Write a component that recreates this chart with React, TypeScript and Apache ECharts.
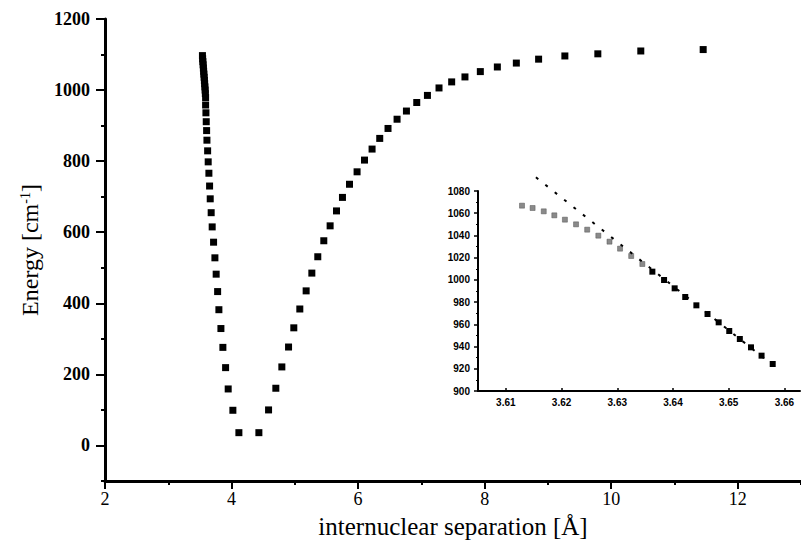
import React, { useEffect, useRef } from "react";
import * as echarts from "echarts";

// ---- main potential curve (separation in Å, energy in cm^-1) ----
const mainSeparation = [
  3.54, 3.543, 3.547, 3.551, 3.555, 3.559, 3.563, 3.567, 3.571, 3.575, 3.579, 3.583, 3.586,
  3.59, 3.59, 3.595, 3.6, 3.606, 3.611, 3.622, 3.631, 3.642, 3.653, 3.663, 3.678, 3.694,
  3.716, 3.737, 3.757, 3.78, 3.8, 3.832, 3.863, 3.906, 3.947, 4.021, 4.116,
  4.432, 4.585, 4.7, 4.795, 4.901, 4.984, 5.079, 5.179, 5.269, 5.363, 5.458, 5.558, 5.659,
  5.753, 5.864, 5.984, 6.101, 6.221, 6.342, 6.473, 6.616, 6.764, 6.927, 7.096, 7.279, 7.479,
  7.689, 7.932, 8.201, 8.501, 8.853, 9.268, 9.789, 10.468, 11.454,
];
const mainEnergy = [
  1097, 1088, 1080, 1071, 1062, 1053, 1045, 1036, 1027, 1018, 1009, 1000, 990,
  979, 958, 936, 911, 886, 859, 829, 798, 766, 730, 694, 655, 615,
  572, 528, 482, 433, 382, 329, 276, 219, 159, 99, 36,
  36, 100, 161, 221, 277, 331, 384, 435, 485, 531, 576, 618, 660,
  698, 735, 770, 803, 834, 864, 892, 918, 941, 965, 985, 1006, 1023,
  1037, 1052, 1065, 1076, 1087, 1096, 1102, 1110, 1114,
];

// ---- inset: grey points (deviating) ----
const insetGreySeparation = [
  3.6129, 3.6148, 3.6168, 3.6187, 3.6206, 3.6226, 3.6246, 3.6266, 3.6286, 3.6305, 3.6325, 3.6345,
];
const insetGreyEnergy = [
  1066.8, 1064.7, 1061.7, 1058.1, 1054.2, 1050.0, 1045.2, 1039.8, 1034.4, 1028.1, 1021.5, 1014.3,
];

// ---- inset: black points ----
const insetBlackSeparation = [
  3.6363, 3.6384, 3.6403, 3.6422, 3.6442, 3.6462, 3.6482, 3.6501, 3.652, 3.654, 3.6559, 3.6579,
];
const insetBlackEnergy = [
  1007.4, 999.9, 992.4, 984.6, 977.1, 969.3, 961.8, 954.0, 946.8, 939.3, 931.8, 924.3,
];

// ---- inset: dotted linear extrapolation ----
const fitSeparation = [3.6154, 3.6575];
const fitEnergy = [1092.3, 924.9];

// ---- tick values ----
const mainXMajor = [2, 4, 6, 8, 10, 12];
const mainYMajor = [0, 200, 400, 600, 800, 1000, 1200];
const insetXTicks = [3.61, 3.62, 3.63, 3.64, 3.65, 3.66];

const SERIF = "'Liberation Serif', 'Times New Roman', serif";
const SANS = "'Liberation Sans', Arial, sans-serif";
const INK = "#000000";

const pairs = (xs: number[], ys: number[]) => xs.map((x, i) => [x, ys[i]]);
const plain = (v: number) => String(v);
const stroke = (width: number) => ({ color: INK, width, opacity: 1 });

export default function App() {
  const ref = useRef<HTMLDivElement>(null);

  useEffect(() => {
    if (!ref.current) return;
    const chart = echarts.init(ref.current, null, { renderer: "svg" });

    const option: any = {
      animation: false,
      backgroundColor: "#ffffff",
      grid: [
        { left: 105, right: 0, top: 19, bottom: 59, containLabel: false },
        { left: 478, right: 1, top: 191, bottom: 153, containLabel: false },
      ],
      xAxis: [
        {
          gridIndex: 0,
          type: "value",
          min: 2,
          max: 13,
          position: "bottom",
          splitLine: { show: false },
          axisLine: { show: true, onZero: false, lineStyle: stroke(3) },
          axisTick: { show: true, customValues: mainXMajor, length: 8, lineStyle: stroke(2) },
          axisLabel: {
            customValues: mainXMajor,
            formatter: plain,
            margin: 9,
            color: INK,
            fontFamily: SERIF,
            fontSize: 18,
          },
          name: "internuclear separation [Å]",
          nameLocation: "middle",
          nameGap: 33,
          nameTextStyle: { fontFamily: SERIF, fontSize: 25, color: INK },
        },
        {
          // minor ticks (every unit, short)
          gridIndex: 0,
          type: "value",
          min: 2,
          max: 13,
          interval: 1,
          position: "bottom",
          splitLine: { show: false },
          axisLine: { show: false, onZero: false },
          axisTick: { show: true, length: 4, lineStyle: stroke(2) },
          axisLabel: { show: false },
        },
        {
          gridIndex: 1,
          type: "value",
          min: 3.605,
          max: 3.6628,
          position: "bottom",
          splitLine: { show: false },
          axisLine: { show: true, onZero: false, lineStyle: stroke(2) },
          axisTick: { show: true, customValues: insetXTicks, length: 3, inside: true, lineStyle: stroke(1.5) },
          axisLabel: {
            customValues: insetXTicks,
            formatter: (v: number) => v.toFixed(2),
            margin: 6,
            color: INK,
            fontFamily: SANS,
            fontWeight: "bold",
            fontSize: 10,
          },
        },
      ],
      yAxis: [
        {
          gridIndex: 0,
          type: "value",
          min: -100,
          max: 1200,
          position: "left",
          splitLine: { show: false },
          axisLine: { show: true, onZero: false, lineStyle: stroke(3) },
          axisTick: { show: true, customValues: mainYMajor, length: 9, lineStyle: stroke(2) },
          axisLabel: {
            customValues: mainYMajor,
            formatter: plain,
            margin: 15,
            color: INK,
            fontFamily: SERIF,
            fontWeight: "bold",
            fontSize: 18,
          },
          name: "Energy [cm{sup|-1}]",
          nameLocation: "middle",
          nameGap: 63,
          nameRotate: 90,
          nameTextStyle: {
            fontFamily: SERIF,
            fontSize: 24,
            color: INK,
            rich: {
              sup: { fontFamily: SERIF, fontSize: 14, color: INK, verticalAlign: "top", lineHeight: 14 },
            },
          },
        },
        {
          // minor ticks every 100, short
          gridIndex: 0,
          type: "value",
          min: -100,
          max: 1200,
          interval: 100,
          position: "left",
          splitLine: { show: false },
          axisLine: { show: false, onZero: false },
          axisTick: { show: true, length: 4, lineStyle: stroke(2) },
          axisLabel: { show: false },
        },
        {
          gridIndex: 1,
          type: "value",
          min: 900,
          max: 1080,
          interval: 20,
          position: "left",
          splitLine: { show: false },
          axisLine: { show: true, onZero: false, lineStyle: stroke(2) },
          axisTick: { show: true, length: 4, lineStyle: stroke(1.5) },
          minorTick: { show: true, splitNumber: 2, length: 2, lineStyle: stroke(1) },
          axisLabel: {
            formatter: plain,
            margin: 8,
            color: INK,
            fontFamily: SANS,
            fontWeight: "bold",
            fontSize: 10,
          },
        },
      ],
      series: [
        {
          type: "scatter",
          xAxisIndex: 0,
          yAxisIndex: 0,
          symbol: "rect",
          symbolSize: 7,
          itemStyle: { color: INK, opacity: 1 },
          data: pairs(mainSeparation, mainEnergy),
        },
        {
          type: "scatter",
          xAxisIndex: 2,
          yAxisIndex: 2,
          symbol: "rect",
          symbolSize: 5,
          itemStyle: { color: "#8a8a8a", borderColor: "#555", borderWidth: 0.5, opacity: 1 },
          data: pairs(insetGreySeparation, insetGreyEnergy),
        },
        {
          type: "line",
          xAxisIndex: 2,
          yAxisIndex: 2,
          clip: false,
          showSymbol: false,
          symbol: "none",
          lineStyle: { color: INK, width: 2, type: [3, 9] },
          data: pairs(fitSeparation, fitEnergy),
          z: 3,
        },
        {
          type: "scatter",
          xAxisIndex: 2,
          yAxisIndex: 2,
          symbol: "rect",
          symbolSize: 6,
          itemStyle: { color: INK, opacity: 1 },
          data: pairs(insetBlackSeparation, insetBlackEnergy),
          z: 4,
        },
      ],
    };

    chart.setOption(option);
    return () => chart.dispose();
  }, []);

  return (
    <div
      ref={ref}
      style={{ position: "absolute", left: 0, top: 0, width: 801, height: 544 }}
    />
  );
}
